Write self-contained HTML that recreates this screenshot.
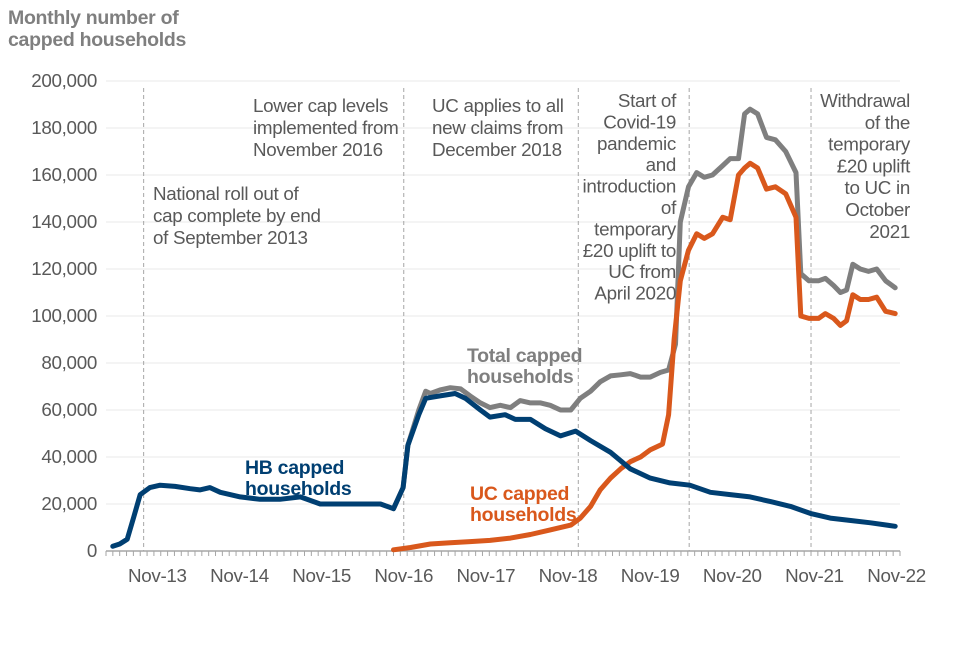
<!DOCTYPE html>
<html><head><meta charset="utf-8"><style>
body{margin:0;background:#fff;}
svg{font-family:"Liberation Sans",Arial,sans-serif;}
</style></head><body>
<svg id="chart" width="960" height="640" viewBox="0 0 960 640">
<text x="8" y="24" font-size="19.5" font-weight="bold" fill="#7f7f7f" letter-spacing="-0.3"><tspan x="8">Monthly number of</tspan><tspan x="8" dy="22">capped households</tspan></text>
<g id="grid"></g><g id="yticks"></g><g id="xaxis"></g><g id="refs"></g><g id="series"></g>
<g font-size="18.8" fill="#595959" letter-spacing="-0.3">
<text><tspan x="153" y="200">National roll out of</tspan><tspan x="153" dy="22">cap complete by end</tspan><tspan x="153" dy="22">of September 2013</tspan></text>
<text><tspan x="253" y="112">Lower cap levels</tspan><tspan x="253" dy="22">implemented from</tspan><tspan x="253" dy="22">November 2016</tspan></text>
<text><tspan x="432" y="112">UC applies to all</tspan><tspan x="432" dy="22">new claims from</tspan><tspan x="432" dy="22">December 2018</tspan></text>
<text text-anchor="end"><tspan x="676" y="107">Start of</tspan><tspan x="676" dy="21.4">Covid-19</tspan><tspan x="676" dy="21.4">pandemic</tspan><tspan x="676" dy="21.4">and</tspan><tspan x="676" dy="21.4">introduction</tspan><tspan x="676" dy="21.4">of</tspan><tspan x="676" dy="21.4">temporary</tspan><tspan x="676" dy="21.4">£20 uplift to</tspan><tspan x="676" dy="21.4">UC from</tspan><tspan x="676" dy="21.4">April 2020</tspan></text>
<text text-anchor="end"><tspan x="910" y="107">Withdrawal</tspan><tspan x="910" dy="21.8">of the</tspan><tspan x="910" dy="21.8">temporary</tspan><tspan x="910" dy="21.8">£20 uplift</tspan><tspan x="910" dy="21.8">to UC in</tspan><tspan x="910" dy="21.8">October</tspan><tspan x="910" dy="21.8">2021</tspan></text>
</g>
<g font-size="19.5" font-weight="bold" letter-spacing="-0.3">
<text fill="#003f72"><tspan x="245" y="474">HB capped</tspan><tspan x="245" dy="21">households</tspan></text>
<text fill="#7f7f7f"><tspan x="467" y="362">Total capped</tspan><tspan x="467" dy="21">households</tspan></text>
<text fill="#d9581c"><tspan x="470" y="500">UC capped</tspan><tspan x="470" dy="21">households</tspan></text>
</g>
</svg>
<script>
// month index 0 = Apr 2013
const yTicks=[0,20000,40000,60000,80000,100000,120000,140000,160000,180000,200000];
const xTickMonths=[7,19,31,43,55,67,79,91,103,115];
const xTickLabels=["Nov-13","Nov-14","Nov-15","Nov-16","Nov-17","Nov-18","Nov-19","Nov-20","Nov-21","Nov-22"];
const refMonths=[5,43,68.5,84.7,102.5];
const hbMonths=[0.5,1.5,2.6,3.6,4.5,5.9,7.4,9.6,11.8,13.2,14.7,16.2,19.1,22,24.9,27.9,30.8,33.7,36.6,39.6,41.5,42.9,43.6,45.2,46.2,48.3,50.5,52,54.2,55.6,57.8,59.3,61.5,63.7,65.9,68.1,70.3,73.2,76.1,79,81.9,84.8,87.8,90.7,93.6,96.6,99.5,102.4,105.3,108.3,111.2,114.8];
const hbValues=[2000,3000,5000,15000,24000,27000,28000,27500,26500,26000,27000,25000,23000,22000,22000,23000,20000,20000,20000,20000,18000,27000,45000,58000,65000,66000,67000,65000,60000,57000,58000,56000,56000,52000,49000,51000,47000,42000,35000,31000,29000,28000,25000,24000,23000,21000,19000,16000,14000,13000,12000,10500];
const totalMonths=[41.5,42.9,43.6,45.2,46.2,46.9,48.3,49.8,51.3,52.7,54.2,55.6,57.1,58.6,60,61.5,63,64.4,65.9,67.4,68.8,70.3,71.7,73.2,74.7,76.1,77.6,79,80.5,81.7,82.7,83.4,84.6,85.8,86.9,88.1,89.6,90.7,91.9,92.8,93.6,94.7,96,97.3,98.8,100.3,101,102.2,103.6,104.6,105.8,106.8,107.7,108.6,109.7,110.9,112.1,113.4,114.8];
const totalValues=[18000,27000,45000,60000,68000,67000,68500,69500,69000,66000,63000,61000,62000,61000,64000,63000,63000,62000,60000,60000,65000,68000,72000,74500,75000,75500,74000,74000,76000,77000,88000,140000,155000,161000,159000,160000,164000,167000,167000,186000,188000,186000,176000,175000,170000,161000,118000,115000,115000,116000,113000,110000,111000,122000,120000,119000,120000,115000,112000];
const ucMonths=[41.5,44,46.9,49.8,52.7,55.6,58.6,61.5,64.4,67.4,68.8,70.3,71.7,73.2,74.7,76.1,77.6,79,80.8,81.7,82.5,83.4,84.6,85.8,86.9,88.1,89.6,90.7,91.9,92.8,93.6,94.7,96,97.3,98.8,100.3,101,102.2,103.6,104.6,105.8,106.8,107.7,108.6,109.7,110.9,112.1,113.4,114.8];
const ucValues=[500,1500,3000,3500,4000,4500,5500,7000,9000,11000,14000,19000,26000,31000,35000,38000,40000,43000,45500,58000,90000,115000,128000,135000,133000,135000,142000,141000,160000,163000,165000,163000,154000,155000,152000,142000,100000,99000,99000,101000,99000,96000,98000,109000,107000,107000,108000,102000,101000];

const NS="http://www.w3.org/2000/svg";
const X0=106,X1=900,NM=116,Y0=551,Y1=81;
const xs=m=>X0+(m+0.5)*(X1-X0)/NM;
const ys=v=>Y0-(v/200000)*(Y0-Y1);
function mk(tag,attrs,parent){const e=document.createElementNS(NS,tag);for(const k in attrs)e.setAttribute(k,attrs[k]);document.getElementById(parent).appendChild(e);return e;}
yTicks.forEach(t=>{
  if(t>0){const g=mk('line',{x1:X0,x2:X1,y1:ys(t),y2:ys(t),stroke:'#e8e8e8','stroke-width':1},'grid');
  
  }
  const l=mk('text',{x:97,y:ys(t)+6,'text-anchor':'end','font-size':18.8,'letter-spacing':'-0.3',fill:'#595959'},'yticks');
  l.textContent=t.toLocaleString('en-GB');
  
  
});
const ax=mk('line',{x1:X0,x2:X1,y1:Y0,y2:Y0,stroke:'#a6a6a6','stroke-width':1.5},'xaxis');


for(let i=0;i<=NM;i++){const t=mk('line',{x1:X0+i*(X1-X0)/NM,x2:X0+i*(X1-X0)/NM,y1:Y0,y2:Y0+5,stroke:'#a6a6a6','stroke-width':1},'xaxis');

}
xTickMonths.forEach((m,i)=>{const t=mk('text',{x:xs(m),y:Y0+31,'text-anchor':'middle','font-size':18.8,'letter-spacing':'-0.3',fill:'#595959'},'xaxis');
t.textContent=xTickLabels[i];

});
refMonths.forEach(m=>{const l=mk('line',{x1:xs(m),x2:xs(m),y1:88,y2:Y0,stroke:'#a6a6a6','stroke-width':1,'stroke-dasharray':'4,3'},'refs');

});
function line(ms,vs,color,name){const d=ms.map((m,i)=>(i?'L':'M')+xs(m).toFixed(1)+','+ys(vs[i]).toFixed(1)).join('');
const p=mk('path',{d:d,fill:'none',stroke:color,'stroke-width':5,'stroke-linejoin':'round','stroke-linecap':'round'},'series');

}
line(totalMonths,totalValues,'#7f7f7f','total-capped-line');
line(ucMonths,ucValues,'#d9581c','uc-capped-line');
line(hbMonths,hbValues,'#003f72','hb-capped-line');
</script>
</body></html>
